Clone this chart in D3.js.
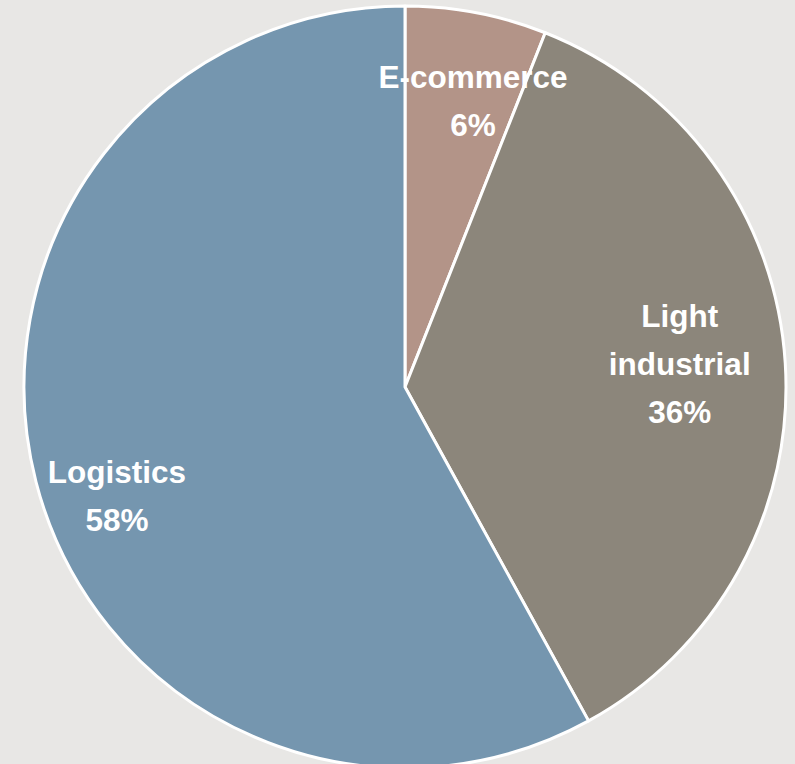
<!DOCTYPE html>
<html>
<head>
<meta charset="utf-8">
<script src="https://cdn.jsdelivr.net/npm/d3@7"></script>
<style>
  html, body { margin: 0; padding: 0; background: #e8e7e5; }
  svg { display: block; }
  .label { font-family: "Liberation Sans", Arial, sans-serif; font-weight: bold; fill: #ffffff; }
</style>
</head>
<body>
<svg id="chart" width="795" height="764"></svg>
<script>
// Share of space by property segment (%)
const categories = ["E-commerce", "Light industrial", "Logistics"];
const shares = [6, 36, 58];
const labelLines = [["E-commerce"], ["Light", "industrial"], ["Logistics"]];
const colors = ["#b39488", "#8c867b", "#7596af"];

// Where each label block sits: angle (deg, clockwise from top) and distance from centre
const labelAngle = [13.9, 87.5, 247.4];
const labelDist = [283, 275, 312];

const width = 795, height = 764;
const cx = 405, cy = 387, radius = 381;
const fontSize = 31.5, lineGap = 48;

const svg = d3.select("#chart");
const g = svg.append("g").attr("transform", `translate(${cx},${cy})`);

const pie = d3.pie().value(d => d.value).sort(null);
const arcs = pie(categories.map((c, i) => ({ name: c, value: shares[i], i })));
const arc = d3.arc().innerRadius(0).outerRadius(radius);

g.selectAll("path.slice")
  .data(arcs)
  .join("path")
  .attr("class", "slice")
  .attr("d", arc)
  .attr("fill", d => colors[d.data.i])
  .attr("stroke", "#ffffff")
  .attr("stroke-width", 3)
  .attr("stroke-linejoin", "round");

const labels = g.selectAll("text.label")
  .data(arcs)
  .join("text")
  .attr("class", "label")
  .attr("text-anchor", "middle")
  .style("font-size", fontSize + "px")
  .attr("transform", d => {
    const a = labelAngle[d.data.i] * Math.PI / 180;
    const r = labelDist[d.data.i];
    return `translate(${r * Math.sin(a)},${-r * Math.cos(a)})`;
  });

labels.each(function(d) {
  const lines = labelLines[d.data.i].concat([d.data.value + "%"]);
  const n = lines.length;
  const t = d3.select(this);
  lines.forEach((line, k) => {
    t.append("tspan")
      .attr("x", 0)
      .attr("y", (k - (n - 1) / 2) * lineGap)
      .text(line);
  });
});
</script>
</body>
</html>
